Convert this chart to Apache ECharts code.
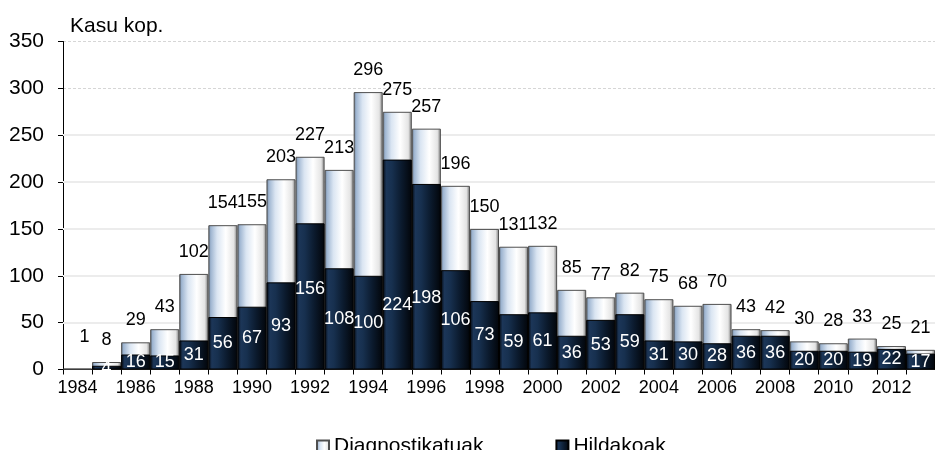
<!DOCTYPE html>
<html>
<head>
<meta charset="utf-8">
<script src="https://cdn.jsdelivr.net/npm/echarts@6/dist/echarts.min.js"></script>
<style>
  html, body { margin: 0; padding: 0; background: #ffffff; }
  #chart { width: 935px; height: 450px; }
</style>
</head>
<body>
<div id="chart"></div>
<script>
// Urteak (kategoria-ardatza)
const years = ['1984','1985','1986','1987','1988','1989','1990','1991','1992','1993',
               '1994','1995','1996','1997','1998','1999','2000','2001','2002','2003',
               '2004','2005','2006','2007','2008','2009','2010','2011','2012','2013'];

// Diagnostikatutako kasuak urteko
const diagnosed = [1, 8, 29, 43, 102, 154, 155, 203, 227, 213,
                   296, 275, 257, 196, 150, 131, 132, 85, 77, 82,
                   75, 68, 70, 43, 42, 30, 28, 33, 25, 21];

// Hildakoak urteko
const deaths = [null, 4, 16, 15, 31, 56, 67, 93, 156, 108,
                100, 224, 198, 106, 73, 59, 61, 36, 53, 59,
                31, 30, 28, 36, 36, 20, 20, 19, 22, 17];

// Y ardatzaren marrak
const yTicks = [0, 50, 100, 150, 200, 250, 300, 350];

// Etiketa batzuen posizio-zuzenketa txikiak (pixeletan)
const deathLabelNudge = { '1992': [0, -7], '1995': [0, 40], '1996': [0, 21] };
const diagLabelNudge = { '1984': [7, -10] };

const FONT = '"Liberation Sans", Arial, Helvetica, sans-serif';

const diagFill = {
  type: 'linear', x: 0, y: 0, x2: 1, y2: 0,
  colorStops: [
    { offset: 0, color: '#5d6b7c' },
    { offset: 0.08, color: '#9db4d0' },
    { offset: 0.3, color: '#dae5f2' },
    { offset: 0.6, color: '#ffffff' },
    { offset: 0.88, color: '#e4e4e4' },
    { offset: 1, color: '#777777' }
  ]
};
const deathFill = {
  type: 'linear', x: 0, y: 0, x2: 1, y2: 0,
  colorStops: [
    { offset: 0, color: '#03070d' },
    { offset: 0.12, color: '#1c3658' },
    { offset: 0.32, color: '#17304f' },
    { offset: 0.65, color: '#0b1a2d' },
    { offset: 1, color: '#02050a' }
  ]
};

const chart = echarts.init(document.getElementById('chart'), null, { renderer: 'canvas' });

chart.setOption({
  backgroundColor: '#ffffff',
  animation: false,
  textStyle: { fontFamily: FONT },
  title: {
    text: 'Kasu kop.',
    left: 65,
    top: 11,
    textStyle: { fontFamily: FONT, fontSize: 21, fontWeight: 'normal', color: '#000' }
  },
  legend: {
    data: ['Diagnostikatuak', 'Hildakoak'],
    left: 311,
    top: 431,
    itemWidth: 12,
    itemHeight: 12,
    itemGap: 72,
    icon: 'rect',
    textStyle: { fontFamily: FONT, fontSize: 21, color: '#000' }
  },
  grid: {
    left: 63,
    top: 41.5,
    width: 879,
    height: 328,
    containLabel: false
  },
  xAxis: {
    type: 'category',
    data: years,
    boundaryGap: true,
    axisLine: { lineStyle: { color: '#000', width: 1 } },
    axisTick: { show: true, interval: 0, length: 5, lineStyle: { color: '#000' } },
    axisLabel: {
      interval: 1,
      margin: 10,
      color: '#000',
      fontFamily: FONT,
      fontSize: 18
    },
    splitLine: { show: false }
  },
  yAxis: {
    type: 'value',
    min: yTicks[0],
    max: yTicks[yTicks.length - 1],
    interval: 50,
    axisLine: { show: true, lineStyle: { color: '#000', width: 1 } },
    axisTick: { show: true, length: 5, lineStyle: { color: '#000' } },
    axisLabel: { margin: 19, color: '#000', fontFamily: FONT, fontSize: 21 },
    splitLine: { show: true, lineStyle: { color: '#d6d6d6', type: [3, 2], width: 1 } }
  },
  series: [
    {
      name: 'Diagnostikatuak',
      type: 'bar',
      barGap: '-100%',
      barCategoryGap: '0%',
      itemStyle: { color: diagFill, borderColor: '#4f4f4f', borderWidth: 1 },
      label: {
        show: true,
        position: 'top',
        distance: 13,
        color: '#000',
        fontFamily: FONT,
        fontSize: 18
      },
      data: diagnosed.map((v, i) => {
        const n = diagLabelNudge[years[i]];
        return n ? { value: v, label: { offset: n } } : v;
      }),
      markLine: {
        silent: true,
        symbol: 'none',
        z: 1,
        label: { show: false },
        lineStyle: { color: '#ececec', type: 'solid', width: 2 },
        data: yTicks.filter(t => t > 0 && t <= 250).map(t => ({ yAxis: t }))
      }
    },
    {
      name: 'Hildakoak',
      type: 'bar',
      barGap: '-100%',
      barCategoryGap: '0%',
      itemStyle: { color: deathFill, borderColor: '#000000', borderWidth: 1 },
      label: {
        show: true,
        position: 'inside',
        color: '#ffffff',
        fontFamily: FONT,
        fontSize: 18
      },
      data: deaths.map((v, i) => {
        const n = deathLabelNudge[years[i]];
        return n ? { value: v, label: { offset: n } } : v;
      })
    }
  ]
});
</script>
</body>
</html>
